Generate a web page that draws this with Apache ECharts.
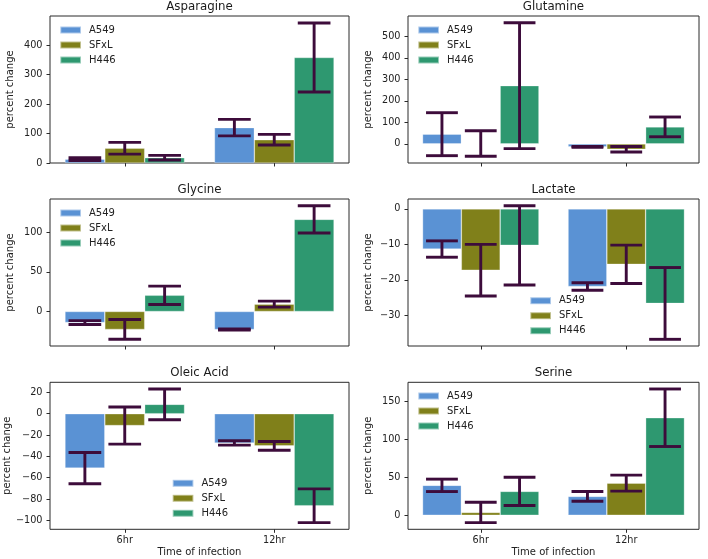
<!DOCTYPE html>
<html>
<head>
<meta charset="utf-8">
<script src="https://cdn.jsdelivr.net/npm/echarts@6/dist/echarts.min.js"></script>
<style>html,body{margin:0;padding:0;background:#fff}#c{width:708px;height:559px}</style>
</head>
<body>
<div id="c"></div>
<script>
// ---- data ----
const categories = ['6hr', '12hr'];
const panelTitles = ['Asparagine', 'Glutamine', 'Glycine', 'Lactate', 'Oleic Acid', 'Serine'];
const seriesNames = ['A549', 'SFxL', 'H446'];
// mean values per panel: [6hr, 12hr]
const a549Mean = [[13, 120], [45, -14], [-14, -22.8], [-11.3, -21.85], [-51, -27.4], [39.5, 24.9]];
const sfxlMean = [[50, 79], [1.5, -25], [-22.7, 9.3], [-17.25, -15.6], [-11.1, -30.1], [3.75, 42.4]];
const h446Mean = [[18, 358], [271, 79], [20.5, 116.5], [-10.25, -26.6], [8.8, -86.3], [31.5, 128.8]];
// error (half-length) per panel: [6hr, 12hr]
const a549Err = [[4.6, 28], [100, 2.5], [2.5, 0.8], [2.3, 1.05], [14.6, 2], [8.2, 6.4]];
const sfxlErr = [[20, 18], [59.5, 13], [12.5, 3.8], [7.25, 5.4], [17.4, 4.1], [13.5, 10.6]];
const h446Err = [[8, 117], [293, 46], [11.6, 17.3], [11.15, 10.1], [14.4, 15.8], [18.7, 38]];
// tick labels per panel
const yTicks = [
  [0, 100, 200, 300, 400],
  [0, 100, 200, 300, 400, 500],
  [0, 50, 100],
  [-30, -20, -10, 0],
  [-100, -80, -60, -40, -20, 0, 20],
  [0, 50, 100, 150]
];

// ---- styling / layout ----
const means = [a549Mean, sfxlMean, h446Mean];
const errs = [a549Err, sfxlErr, h446Err];
const colors = ['#5a92d4', '#80801a', '#2e9870'];
const errColor = '#3d0c3b';
const FONT = 'DejaVu Sans';
const TXT = '#222222';
const colLeft = [50, 408], colWidth = [299, 291];
const rowTop = [16, 199, 382.3], H = 147;
const legendPos = [
  {left: 59.3, top: 22.5}, {left: 417.3, top: 22.5},
  {left: 59.3, top: 205.5}, {left: 529.3, top: 293.2},
  {left: 171.7, top: 475.8}, {left: 417.3, top: 388.5}
];

function fmt(v) { return v < 0 ? '\u2212' + Math.abs(v) : String(v); }

const grid = [], xAxis = [], yAxis = [], series = [], legend = [], graphic = [];
for (let p = 0; p < 6; p++) {
  const col = p % 2, row = Math.floor(p / 2);
  const left = colLeft[col], width = colWidth[col], top = rowTop[row];
  grid.push({left: left, top: top, width: width, height: H, show: true,
    borderColor: '#2a2a2a', borderWidth: 1, backgroundColor: 'transparent', containLabel: false});
  // y range like matplotlib autoscale (5% margins, sticky at 0)
  let lo = 0, hi = 0;
  for (let s = 0; s < 3; s++) for (let c = 0; c < 2; c++) {
    lo = Math.min(lo, means[s][p][c] - errs[s][p][c]);
    hi = Math.max(hi, means[s][p][c] + errs[s][p][c]);
  }
  const r = hi - lo;
  const ymin = lo === 0 ? 0 : lo - 0.05 * r;
  const ymax = hi === 0 ? 0 : hi + 0.05 * r;
  const bottomRow = row === 2;
  xAxis.push({type: 'category', gridIndex: p, data: categories, boundaryGap: true,
    name: bottomRow ? 'Time of infection' : '', nameLocation: 'middle', nameGap: 18,
    nameTextStyle: {fontFamily: FONT, fontSize: 10, color: TXT},
    axisLine: {show: false, onZero: false},
    axisTick: {show: true, alignWithLabel: true, length: 3.5, lineStyle: {color: '#2a2a2a'}},
    axisLabel: {show: bottomRow, margin: 6, fontFamily: FONT, fontSize: 9.7, color: TXT},
    splitLine: {show: false}});
  yAxis.push({type: 'value', gridIndex: p, min: ymin, max: ymax,
    name: 'percent change', nameLocation: 'middle', nameGap: 35, nameRotate: 90,
    nameTextStyle: {fontFamily: FONT, fontSize: 10, color: TXT},
    axisLine: {show: false},
    axisTick: {show: true, length: 3.5, customValues: yTicks[p], lineStyle: {color: '#2a2a2a'}},
    axisLabel: {margin: 7.5, fontFamily: FONT, fontSize: 9.7, color: TXT, customValues: yTicks[p], formatter: fmt},
    splitLine: {show: false}});
  for (let s = 0; s < 3; s++) {
    series.push({type: 'bar', name: seriesNames[s], xAxisIndex: p, yAxisIndex: p,
      data: means[s][p], barGap: '0%', barCategoryGap: '20%',
      itemStyle: {color: colors[s], borderColor: 'rgba(255,255,255,0.5)', borderWidth: 0.6},
      emphasis: {disabled: true}, z: 2, animation: false});
  }
  for (let s = 0; s < 3; s++) {
    const k = s;
    series.push({type: 'custom', name: seriesNames[s] + ' err', xAxisIndex: p, yAxisIndex: p, z: 5,
      animation: false, silent: true,
      data: categories.map((c, i) => [i, means[s][p][i] - errs[s][p][i], means[s][p][i] + errs[s][p][i]]),
      encode: {x: 0, y: [1, 2]},
      renderItem: function (params, api) {
        const xi = api.value(0);
        const a = api.coord([xi, api.value(1)]);
        const b = api.coord([xi, api.value(2)]);
        const band = api.size([1, 0])[0];
        const bw = band * 0.8 / 3;
        const x = a[0] + (k - 1) * bw;
        const half = bw * 0.41;
        const ls = {stroke: errColor, lineWidth: 2.9};
        return {type: 'group', children: [
          {type: 'line', shape: {x1: x, y1: a[1], x2: x, y2: b[1]}, style: ls},
          {type: 'line', shape: {x1: x - half, y1: a[1], x2: x + half, y2: a[1]}, style: ls},
          {type: 'line', shape: {x1: x - half, y1: b[1], x2: x + half, y2: b[1]}, style: ls}
        ]};
      }});
  }
  legend.push({data: seriesNames, orient: 'vertical', left: legendPos[p].left, top: legendPos[p].top,
    padding: 0, itemGap: 0, itemWidth: 20.7, itemHeight: 7, icon: 'rect', selectedMode: false,
    textStyle: {fontFamily: FONT, fontSize: 10, color: TXT, lineHeight: 15, padding: [0, 0, 0, 3]}});
  graphic.push({type: 'text', x: left + width / 2, y: top - 9,
    style: {text: panelTitles[p], fontFamily: FONT, fontSize: 11.8, fill: '#1a1a1a',
      textAlign: 'center', textVerticalAlign: 'middle'}});
}

const chart = echarts.init(document.getElementById('c'), null, {renderer: 'canvas'});
chart.setOption({animation: false, backgroundColor: '#fff', grid, xAxis, yAxis, series, legend, graphic});
</script>
</body>
</html>
